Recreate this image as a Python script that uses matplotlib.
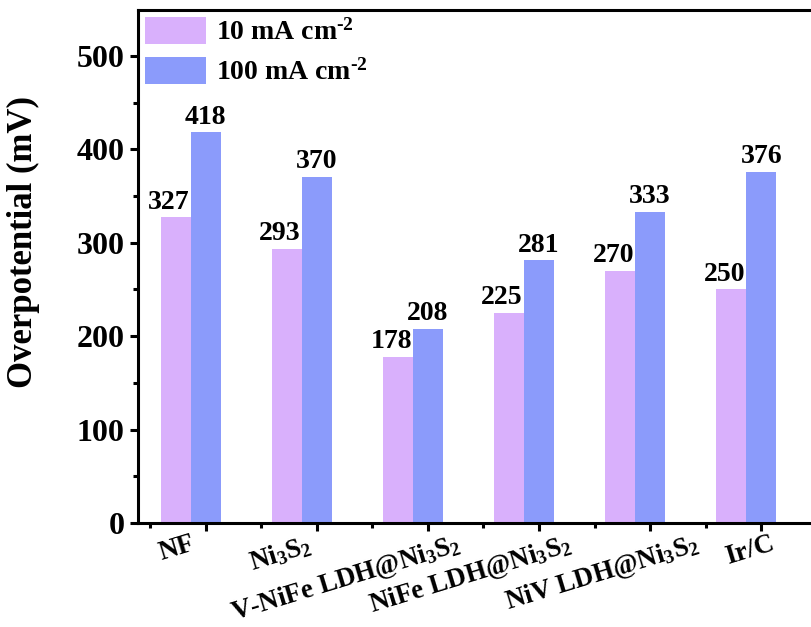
import matplotlib
matplotlib.use("Agg")
import matplotlib.pyplot as plt
import numpy as np
from matplotlib.transforms import ScaledTranslation
from matplotlib.ticker import MultipleLocator

plt.rcParams["font.family"] = ["Liberation Serif", "DejaVu Serif"]
plt.rcParams["font.weight"] = "bold"
plt.rcParams["mathtext.fontset"] = "custom"
plt.rcParams["mathtext.rm"] = "Liberation Serif:bold"
plt.rcParams["mathtext.it"] = "Liberation Serif:bold"
plt.rcParams["mathtext.bf"] = "Liberation Serif:bold"

categories = ["NF", r"Ni$_3$S$_2$", r"V-NiFe LDH@Ni$_3$S$_2$",
              r"NiFe LDH@Ni$_3$S$_2$", r"NiV LDH@Ni$_3$S$_2$", "Ir/C"]
eta_10 = [327, 293, 178, 225, 270, 250]
eta_100 = [418, 370, 208, 281, 333, 376]
series_labels = [r"10 mA cm$^{\text{-2}}$", r"100 mA cm$^{\text{-2}}$"]

# horizontal nudges (pixels) for the slanted category labels
label_nudge_px = [-15, -10, 28, 28, 44, 9]

pink = "#D9B0FC"
blue = "#8B9BFB"

W, H, DPI = 811, 627, 100
fig = plt.figure(figsize=(W / DPI, H / DPI), dpi=DPI)

left_px, right_px = 138, 829
bottom_px, top_px = 523, 10
ax = fig.add_axes([left_px / W, 1 - bottom_px / H,
                   (right_px - left_px) / W, (bottom_px - top_px) / H])

x = np.arange(len(categories))
w = 0.27
b1 = ax.bar(x - w, eta_10, width=w, color=pink, label=series_labels[0])
b2 = ax.bar(x, eta_100, width=w, color=blue, label=series_labels[1])

for bars, shift in ((b1, -5), (b2, 0)):
    for rect in bars:
        h = rect.get_height()
        ax.annotate(f"{h:.0f}", (rect.get_x() + rect.get_width() / 2, h),
                    xytext=(shift, 2), textcoords="offset points",
                    ha="center", va="bottom", fontsize=20, fontweight="bold")

ax.set_xlim(-0.61, len(categories) - 1 + 0.61)
ax.set_ylim(0, 549)
ax.yaxis.set_major_locator(MultipleLocator(100))
ax.yaxis.set_minor_locator(MultipleLocator(50))
ax.set_xticks(x)
ax.set_xticks(np.r_[x[0] - 0.5, x[:-1] + 0.5, x[-1] + 0.5], minor=True)

for s in ax.spines.values():
    s.set_linewidth(2.2)

ax.tick_params(axis="both", which="major", direction="out", length=6,
               width=2.2, labelsize=23)
ax.tick_params(axis="both", which="minor", direction="out", length=3.5,
               width=2.2)
ax.tick_params(axis="x", which="major", pad=0, labelsize=19.5)

ax.set_xticklabels(categories, rotation=17, ha="right", va="top",
                   rotation_mode="anchor")
for lab, dx in zip(ax.get_xticklabels(), label_nudge_px):
    lab.set_transform(lab.get_transform() +
                      ScaledTranslation(dx / DPI, 0, fig.dpi_scale_trans))
for lab in ax.get_yticklabels():
    lab.set_fontweight("bold")

fig.text(23 / W, 1 - 242 / H, "Overpotential (mV)", rotation=90,
         ha="center", va="center", fontsize=25, fontweight="bold")

leg = ax.legend(loc="upper left", bbox_to_anchor=(0.01, 0.986), frameon=False,
                fontsize=20, handlelength=2.2, handleheight=1.1,
                handletextpad=0.35, labelspacing=0.4, borderpad=0,
                borderaxespad=0)

fig.savefig("out.png", dpi=DPI)
